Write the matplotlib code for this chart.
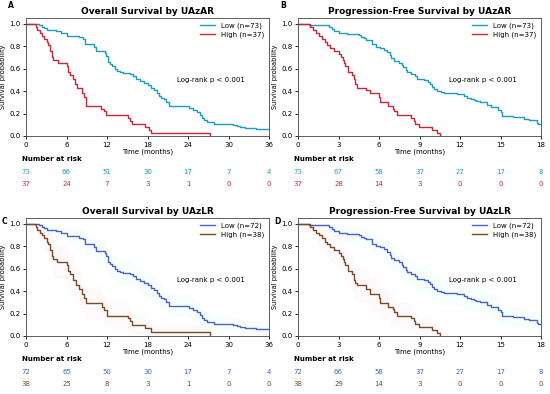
import numpy as np
import matplotlib
matplotlib.use("Agg")
import matplotlib.pyplot as plt

# Kaplan-Meier step values: (time in months, survival after step)
os_uazar_low = [(0, 1.0), (1.95, 0.986), (2.3, 0.97), (2.6, 0.96), (3.1, 0.945), (4.5, 0.93),
                (5.2, 0.918), (6.0, 0.89), (7.8, 0.877), (8.4, 0.86), (8.7, 0.822), (10.0, 0.795),
                (10.3, 0.76), (11.7, 0.74), (11.9, 0.71), (12.1, 0.66), (12.4, 0.64), (12.8, 0.62),
                (13.2, 0.60), (13.5, 0.58), (13.9, 0.57), (14.4, 0.56), (15.4, 0.548), (15.9, 0.53),
                (16.3, 0.51), (16.9, 0.49), (17.5, 0.47), (18.1, 0.45), (18.5, 0.43), (18.9, 0.41),
                (19.4, 0.38), (19.7, 0.36), (20.0, 0.34), (20.4, 0.33), (20.8, 0.30), (21.2, 0.27),
                (24.2, 0.25), (24.8, 0.23), (25.3, 0.21), (25.8, 0.19), (26.1, 0.16), (26.4, 0.14),
                (26.8, 0.125), (27.9, 0.11), (30.7, 0.10), (31.3, 0.09), (31.7, 0.08), (32.5, 0.075),
                (34.1, 0.065), (36.0, 0.065)]
os_uazar_high = [(0, 1.0), (1.5, 0.97), (1.7, 0.946), (2.0, 0.92), (2.3, 0.89), (2.6, 0.865),
                 (3.1, 0.84), (3.3, 0.81), (3.55, 0.76), (3.8, 0.70), (4.05, 0.676), (4.8, 0.65),
                 (6.0, 0.62), (6.2, 0.57), (6.5, 0.54), (7.0, 0.51), (7.3, 0.46), (7.6, 0.43),
                 (8.3, 0.38), (8.6, 0.35), (8.9, 0.27), (11.1, 0.24), (11.5, 0.22), (11.9, 0.19),
                 (15.1, 0.16), (15.4, 0.135), (15.65, 0.11), (17.7, 0.08), (18.2, 0.054),
                 (18.5, 0.03), (27.3, 0.0)]

pfs_uazar_low = [(0, 1.0), (0.8, 0.99), (1.3, 0.985), (2.3, 0.97), (2.5, 0.95), (2.7, 0.93),
                 (3.0, 0.92), (3.6, 0.91), (4.5, 0.90), (4.7, 0.885), (4.9, 0.87), (5.0, 0.85),
                 (5.5, 0.82), (5.8, 0.79), (6.1, 0.78), (6.4, 0.765), (6.6, 0.75), (6.8, 0.72),
                 (6.9, 0.69), (7.1, 0.67), (7.5, 0.65), (7.7, 0.63), (7.8, 0.61), (8.0, 0.59),
                 (8.1, 0.57), (8.35, 0.55), (8.7, 0.53), (8.85, 0.51), (9.3, 0.50), (9.6, 0.48),
                 (9.75, 0.46), (9.9, 0.44), (10.1, 0.42), (10.3, 0.40), (10.6, 0.39), (10.8, 0.38),
                 (11.8, 0.37), (12.3, 0.355), (12.5, 0.34), (12.8, 0.33), (13.0, 0.32), (13.2, 0.31),
                 (13.5, 0.30), (14.0, 0.28), (14.3, 0.26), (14.8, 0.23), (15.0, 0.21), (15.1, 0.18),
                 (15.9, 0.17), (16.75, 0.155), (17.1, 0.14), (17.7, 0.12), (17.8, 0.11), (18.0, 0.11)]
pfs_uazar_high = [(0, 1.0), (0.9, 0.97), (1.1, 0.945), (1.3, 0.92), (1.55, 0.89), (1.8, 0.865),
                  (2.0, 0.84), (2.15, 0.81), (2.4, 0.785), (2.65, 0.76), (3.0, 0.73), (3.15, 0.70),
                  (3.3, 0.68), (3.4, 0.65), (3.5, 0.62), (3.7, 0.57), (4.0, 0.54), (4.15, 0.51),
                  (4.25, 0.46), (4.4, 0.43), (5.0, 0.405), (5.3, 0.38), (6.0, 0.35), (6.1, 0.30),
                  (6.7, 0.27), (7.0, 0.24), (7.1, 0.22), (7.3, 0.19), (8.35, 0.16), (8.6, 0.135),
                  (8.7, 0.11), (8.95, 0.08), (9.95, 0.054), (10.3, 0.027), (10.5, 0.0)]

os_uazlr_low = [(0, 1.0), (1.95, 0.986), (2.3, 0.972), (2.6, 0.958), (3.1, 0.944), (4.5, 0.93),
                (5.2, 0.917), (6.0, 0.89), (7.8, 0.876), (8.4, 0.86), (8.7, 0.82), (10.0, 0.79),
                (10.3, 0.76), (11.7, 0.74), (11.9, 0.71), (12.1, 0.66), (12.4, 0.64), (12.8, 0.62),
                (13.2, 0.60), (13.5, 0.58), (13.9, 0.57), (14.4, 0.56), (15.4, 0.548), (15.9, 0.53),
                (16.3, 0.51), (16.9, 0.49), (17.5, 0.47), (18.1, 0.45), (18.5, 0.43), (18.9, 0.41),
                (19.4, 0.38), (19.7, 0.36), (20.0, 0.34), (20.4, 0.33), (20.8, 0.30), (21.2, 0.27),
                (24.2, 0.25), (24.8, 0.23), (25.3, 0.21), (25.8, 0.19), (26.1, 0.16), (26.4, 0.14),
                (26.8, 0.125), (27.9, 0.11), (30.7, 0.10), (31.3, 0.09), (31.7, 0.08), (32.5, 0.075),
                (34.1, 0.065), (36.0, 0.065)]
os_uazlr_high = [(0, 1.0), (1.5, 0.974), (1.7, 0.947), (2.0, 0.92), (2.3, 0.895), (2.6, 0.868),
                 (3.1, 0.84), (3.3, 0.816), (3.55, 0.763), (3.8, 0.71), (4.05, 0.684), (4.6, 0.66),
                 (6.0, 0.63), (6.2, 0.58), (6.5, 0.55), (6.9, 0.50), (7.4, 0.45), (7.8, 0.42),
                 (8.3, 0.37), (8.6, 0.34), (8.9, 0.29), (11.2, 0.26), (11.6, 0.23), (12.0, 0.18),
                 (15.1, 0.16), (15.4, 0.13), (15.65, 0.10), (17.7, 0.07), (18.5, 0.034),
                 (27.3, 0.0)]

pfs_uazlr_low = [(0, 1.0), (0.8, 0.99), (1.3, 0.986), (2.3, 0.972), (2.5, 0.95), (2.7, 0.93),
                 (3.0, 0.917), (3.6, 0.905), (4.5, 0.895), (4.7, 0.88), (4.9, 0.87), (5.0, 0.86),
                 (5.5, 0.82), (5.8, 0.80), (6.1, 0.79), (6.4, 0.77), (6.6, 0.75), (6.8, 0.72),
                 (6.9, 0.69), (7.1, 0.68), (7.5, 0.66), (7.7, 0.63), (7.8, 0.61), (8.0, 0.59),
                 (8.1, 0.57), (8.35, 0.55), (8.7, 0.53), (8.85, 0.51), (9.3, 0.50), (9.6, 0.48),
                 (9.75, 0.46), (9.9, 0.44), (10.1, 0.42), (10.3, 0.40), (10.6, 0.39), (10.8, 0.38),
                 (11.8, 0.37), (12.3, 0.355), (12.5, 0.34), (12.8, 0.33), (13.0, 0.32), (13.2, 0.31),
                 (13.5, 0.30), (14.0, 0.28), (14.3, 0.26), (14.8, 0.23), (15.0, 0.21), (15.1, 0.18),
                 (15.9, 0.17), (16.75, 0.155), (17.1, 0.14), (17.7, 0.12), (17.8, 0.11), (18.0, 0.11)]
pfs_uazlr_high = [(0, 1.0), (0.9, 0.974), (1.1, 0.947), (1.3, 0.92), (1.55, 0.895), (1.8, 0.868),
                  (2.0, 0.84), (2.15, 0.816), (2.4, 0.79), (2.65, 0.763), (3.0, 0.737), (3.15, 0.71),
                  (3.3, 0.684), (3.4, 0.658), (3.5, 0.63), (3.7, 0.58), (4.0, 0.55), (4.15, 0.50),
                  (4.25, 0.47), (4.4, 0.45), (5.0, 0.42), (5.3, 0.37), (6.0, 0.34), (6.1, 0.29),
                  (6.7, 0.26), (7.0, 0.24), (7.1, 0.21), (7.3, 0.18), (8.35, 0.16), (8.6, 0.13),
                  (8.7, 0.105), (8.95, 0.08), (9.95, 0.053), (10.3, 0.026), (10.5, 0.0)]

# numbers at risk
os_ticks = [0, 6, 12, 18, 24, 30, 36]
pfs_ticks = [0, 3, 6, 9, 12, 15, 18]
risk_a_low = [73, 66, 51, 30, 17, 7, 4]
risk_a_high = [37, 24, 7, 3, 1, 0, 0]
risk_b_low = [73, 67, 58, 37, 27, 17, 8]
risk_b_high = [37, 28, 14, 3, 0, 0, 0]
risk_c_low = [72, 65, 50, 30, 17, 7, 4]
risk_c_high = [38, 25, 8, 3, 1, 0, 0]
risk_d_low = [72, 66, 58, 37, 27, 17, 8]
risk_d_high = [38, 29, 14, 3, 0, 0, 0]

panels = [
    dict(letter="A", title="Overall Survival by UAzAR", low=os_uazar_low, high=os_uazar_high,
         n=(73, 37), ticks=os_ticks, risk=(risk_a_low, risk_a_high),
         colors=("#1f9bbf", "#c8283a"), band=False),
    dict(letter="B", title="Progression-Free Survival by UAzAR", low=pfs_uazar_low, high=pfs_uazar_high,
         n=(73, 37), ticks=pfs_ticks, risk=(risk_b_low, risk_b_high),
         colors=("#1f9bbf", "#c8283a"), band=False),
    dict(letter="C", title="Overall Survival by UAzLR", low=os_uazlr_low, high=os_uazlr_high,
         n=(72, 38), ticks=os_ticks, risk=(risk_c_low, risk_c_high),
         colors=("#4466c0", "#7a4a26"), band=True),
    dict(letter="D", title="Progression-Free Survival by UAzLR", low=pfs_uazlr_low, high=pfs_uazlr_high,
         n=(72, 38), ticks=pfs_ticks, risk=(risk_d_low, risk_d_high),
         colors=("#4466c0", "#7a4a26"), band=True),
]

W, H = 550, 394
positions = [(26, 18), (298, 18), (26, 218), (298, 218)]
ax_w, ax_h = 243, 118

fig = plt.figure(figsize=(5.5, 3.94), dpi=100)

for p, (px, py) in zip(panels, positions):
    ax = fig.add_axes([px / W, 1 - (py + ax_h) / H, ax_w / W, ax_h / H])
    band_cols = ("#a8e8f0", "#f5b8d0")
    for key, col, n, lab, bc in zip(("low", "high"), p["colors"], p["n"], ("Low", "High"), band_cols):
        t = np.array([a for a, b in p[key]])
        s = np.array([b for a, b in p[key]])
        if p["band"]:
            # approximate 95% CI for the faint band
            half = 1.96 * np.sqrt(s * (1 - s) / n)
            ax.fill_between(t, np.clip(s - half, 0, 1), np.clip(s + half, 0, 1),
                            step="post", color=bc, alpha=0.08, lw=0)
        ax.step(t, s, where="post", color=col, lw=1.0, label=f"{lab} (n={n})")

    xmax = p["ticks"][-1]
    ax.set_xlim(0, xmax)
    ax.set_ylim(0, 1.05)
    ax.set_xticks(p["ticks"])
    ax.set_yticks([0, 0.2, 0.4, 0.6, 0.8, 1.0])
    ax.tick_params(labelsize=5, length=2.5, width=0.6, pad=1.5)
    for sp in ax.spines.values():
        sp.set_linewidth(0.6)
        sp.set_color("#444444")
    ax.set_xlabel("Time (months)", fontsize=5, labelpad=1)
    ax.set_ylabel("Survival probability", fontsize=4.8, labelpad=2)
    ax.set_title(p["title"], fontsize=6.5, fontweight="bold", pad=3)
    ax.legend(loc="upper right", fontsize=5, frameon=False, handlelength=2.2,
              borderaxespad=0.3, labelspacing=0.3)
    ax.text(0.62, 0.46, "Log-rank p < 0.001", transform=ax.transAxes, fontsize=5)

    # number at risk table
    tr = ax.get_xaxis_transform()
    ax.text(-0.015, -0.195, "Number at risk", transform=ax.transAxes, fontsize=5,
            fontweight="bold", va="center")
    for row, col, yy in zip(p["risk"], p["colors"], (-0.305, -0.41)):
        for x, v in zip(p["ticks"], row):
            ax.text(x, yy, str(v), transform=tr, fontsize=5, color=col,
                    ha="center", va="center", clip_on=False)

    if py < 100:
        fig.text((px - 18) / W, 1 - 5 / H, p["letter"], fontsize=5.5, fontweight="bold",
                 va="center")
    else:
        fig.text((px - 24) / W, 1 - (py + 4) / H, p["letter"], fontsize=5.5, fontweight="bold",
                 va="center")

fig.savefig("out.png", dpi=100)
